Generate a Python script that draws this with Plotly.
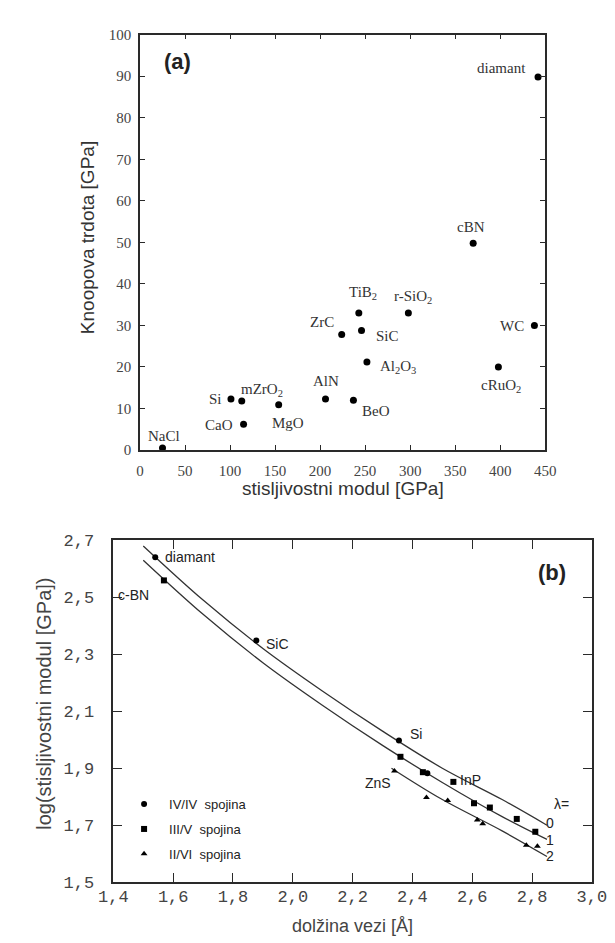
import plotly.graph_objects as go

W, H = 615, 943

# ---------------- (a) data ----------------
materials = ["NaCl", "Si", "mZrO<sub>2</sub>", "CaO", "MgO", "AlN", "BeO", "ZrC",
             "TiB<sub>2</sub>", "SiC", "Al<sub>2</sub>O<sub>3</sub>", "r-SiO<sub>2</sub>",
             "cBN", "cRuO<sub>2</sub>", "WC", "diamant"]
bulk_modulus = [25, 101, 113, 115, 154, 206, 237, 224, 243, 246, 252, 298, 370, 398, 438, 442]
knoop_hardness = [0.5, 12.3, 11.8, 6.2, 10.9, 12.3, 12.0, 27.8, 33.0, 28.8, 21.2, 33.0, 49.8, 20.0, 30.0, 89.8]
a_xticks = [0, 50, 100, 150, 200, 250, 300, 350, 400, 450]
a_yticks = [0, 10, 20, 30, 40, 50, 60, 70, 80, 90, 100]

# ---------------- (b) data ----------------
iv_d = [1.54, 1.878, 2.355, 2.45]
iv_logb = [2.64, 2.348, 1.997, 1.882]
iii_d = [1.569, 2.36, 2.435, 2.537, 2.606, 2.659, 2.749, 2.811]
iii_logb = [2.559, 1.94, 1.886, 1.852, 1.777, 1.762, 1.722, 1.677]
ii_d = [2.34, 2.447, 2.518, 2.617, 2.635, 2.781, 2.818]
ii_logb = [1.89, 1.797, 1.787, 1.718, 1.705, 1.63, 1.626]

curve_d = [1.50, 1.70, 1.90, 2.10, 2.30, 2.50, 2.70, 2.85]
curve_l0 = [2.68, 2.49, 2.32, 2.17, 2.03, 1.90, 1.79, 1.70]
curve_l1 = [2.63, 2.44, 2.27, 2.12, 1.98, 1.85, 1.73, 1.65]
curve_d2 = [2.33, 2.50, 2.70, 2.85]
curve_l2 = [1.90, 1.79, 1.68, 1.59]

b_xticks = [1.4, 1.6, 1.8, 2.0, 2.2, 2.4, 2.6, 2.8, 3.0]
b_xticklabels = ["1,4", "1,6", "1,8", "2,0", "2,2", "2,4", "2,6", "2,8", "3,0"]
b_yticks = [1.5, 1.7, 1.9, 2.1, 2.3, 2.5, 2.7]
b_yticklabels = ["1,5", "1,7", "1,9", "2,1", "2,3", "2,5", "2,7"]

legend_names = ["IV/IV\u00a0\u00a0spojina", "III/V\u00a0\u00a0spojina", "II/VI\u00a0\u00a0spojina"]


def px(x):
    return x / W


def py(y):
    return 1 - y / H


SERIF = "Liberation Serif"
SANS = "Liberation Sans"
MONO = "Liberation Mono"
LINE = "#2a2a2a"

fig = go.Figure()

# (a) scatter
fig.add_trace(go.Scatter(
    x=bulk_modulus, y=knoop_hardness, mode="markers",
    marker=dict(color="black", size=7), xaxis="x", yaxis="y",
    showlegend=False, cliponaxis=False, hoverinfo="skip"))

# (b) curves
for xs, ys in [(curve_d, curve_l0), (curve_d, curve_l1), (curve_d2, curve_l2)]:
    fig.add_trace(go.Scatter(
        x=xs, y=ys, mode="lines", line=dict(color="#333333", width=1.3, shape="spline"),
        xaxis="x2", yaxis="y2", showlegend=False, hoverinfo="skip"))

# (b) points
for (xs, ys, sym, name) in [(iv_d, iv_logb, "circle", legend_names[0]),
                            (iii_d, iii_logb, "square", legend_names[1]),
                            (ii_d, ii_logb, "triangle-up", legend_names[2])]:
    fig.add_trace(go.Scatter(
        x=xs, y=ys, mode="markers", name=name, legendgroup=name,
        marker=dict(color="black", size=6, symbol=sym),
        xaxis="x2", yaxis="y2", cliponaxis=False, hoverinfo="skip"))

annotations = []

# (a) point labels: offsets in px (dx, dy up)
a_offsets = {
    "NaCl": (1, 12), "Si": (-15, 0), "mZrO<sub>2</sub>": (20, 11), "CaO": (-25, -1),
    "MgO": (9, -18), "AlN": (0, 18), "BeO": (23, -11), "ZrC": (-20, 13),
    "TiB<sub>2</sub>": (4, 20), "SiC": (26, -6), "Al<sub>2</sub>O<sub>3</sub>": (31, -5),
    "r-SiO<sub>2</sub>": (5, 16), "cBN": (-2, 16), "cRuO<sub>2</sub>": (3, -19),
    "WC": (-22, -1), "diamant": (-37, 9),
}
for m, xv, yv in zip(materials, bulk_modulus, knoop_hardness):
    dx, dy = a_offsets[m]
    annotations.append(dict(x=xv, y=yv, xref="x", yref="y", text=m, showarrow=False,
                            xanchor="center", yanchor="middle", xshift=dx, yshift=dy,
                            font=dict(family=SERIF, size=15, color="#333")))

# (b) point labels
b_labels = [("diamant", 1.54, 2.64, "left", 8, 0),
            ("c-BN", 1.569, 2.559, "center", -30, -15),
            ("SiC", 1.878, 2.348, "left", 8, -3),
            ("Si", 2.355, 1.997, "left", 9, 7),
            ("ZnS", 2.34, 1.89, "right", -1, -12),
            ("InP", 2.537, 1.852, "left", 5, 2)]
for t, xv, yv, anc, dx, dy in b_labels:
    annotations.append(dict(x=xv, y=yv, xref="x2", yref="y2", text=t, showarrow=False,
                            xanchor=anc, yanchor="middle", xshift=dx, yshift=dy,
                            font=dict(family=SANS, size=14, color="#222")))

lam_labels = [("λ=", 2.897, 1.775), ("0", 2.86, 1.707), ("1", 2.86, 1.648), ("2", 2.86, 1.593)]
for t, xv, yv in lam_labels:
    annotations.append(dict(x=xv, y=yv, xref="x2", yref="y2", text=t, showarrow=False,
                            xanchor="center", yanchor="middle",
                            font=dict(family=SANS, size=14, color="#222")))


def paper_text(xp, yp, text, size, color, angle=0):
    return dict(x=px(xp), y=py(yp), xref="paper", yref="paper", text=text,
                xanchor="center", yanchor="middle", textangle=angle, showarrow=False,
                font=dict(family=SANS, size=size, color=color))


annotations += [
    paper_text(336, 482, "stisljivostni modul [GPa]", 19, "#333"),
    paper_text(68, 226, "Knoopova trdota [GPa]", 19, "#333", -90),
    paper_text(162, 46, "<b>(a)</b>", 22, "#222"),
    paper_text(346, 929, "dolžina vezi [Å]", 18, "#444"),
    paper_text(22, 702, "log(stisljivostni modul [GPa])", 20, "#444", -90),
    paper_text(556, 568, "<b>(b)</b>", 22, "#222"),
]

axis_common = dict(showgrid=False, zeroline=False, showline=True, linecolor=LINE, linewidth=1.5,
                   mirror="allticks", ticks="inside", tickcolor=LINE, tickwidth=1.2)

fig.update_layout(
    width=W, height=H, margin=dict(l=0, r=0, t=0, b=0),
    paper_bgcolor="white", plot_bgcolor="white",
    showlegend=True,
    legend=dict(x=px(101), y=py(789), xanchor="left", yanchor="top", itemwidth=40,
                bgcolor="rgba(0,0,0,0)", traceorder="grouped", tracegroupgap=5,
                font=dict(family=SANS, size=13, color="#222")),
    xaxis=dict(domain=[px(123), px(549)], range=[0, 450], anchor="y",
               tickvals=a_xticks, ticklen=5, ticklabelstandoff=6,
               tickfont=dict(family=SERIF, size=15, color="#444"), **axis_common),
    yaxis=dict(domain=[py(443), py(19)], range=[0, 100], anchor="x",
               tickvals=a_yticks, ticklen=5, ticklabelstandoff=4,
               tickfont=dict(family=SERIF, size=15, color="#444"), **axis_common),
    xaxis2=dict(domain=[px(95), px(598)], range=[1.4, 3.0], anchor="y2",
                tickvals=b_xticks, ticktext=b_xticklabels, ticklen=9, ticklabelstandoff=-2,
                tickfont=dict(family=MONO, size=17, color="#444"), **axis_common),
    yaxis2=dict(domain=[py(884), py(535)], range=[1.5, 2.7], anchor="x2",
                tickvals=b_yticks, ticktext=b_yticklabels, ticklen=9, ticklabelstandoff=14,
                tickfont=dict(family=MONO, size=17, color="#444"), **axis_common),
    annotations=annotations,
)

fig.write_html("out.html")
